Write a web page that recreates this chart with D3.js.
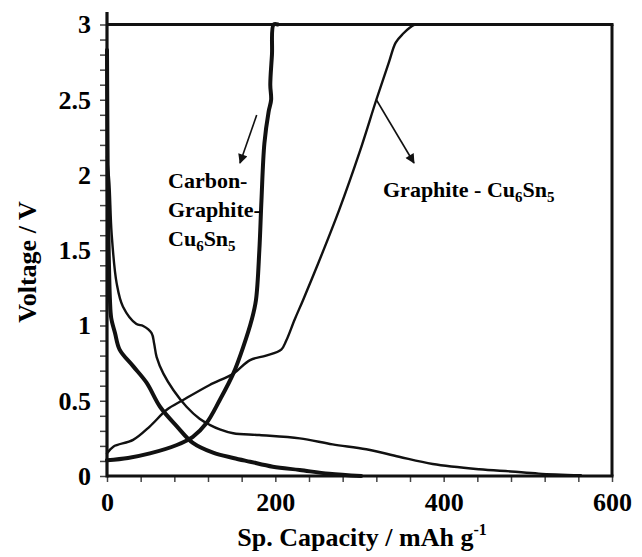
<!DOCTYPE html>
<html>
<head>
<meta charset="utf-8">
<script src="https://cdn.jsdelivr.net/npm/d3@7"></script>
<style>
  body { margin: 0; background: #fff; }
  svg { display: block; }
  text { font-family: "Liberation Serif", "Times New Roman", serif; font-weight: bold; fill: #000; }
</style>
</head>
<body>
<div id="chart"></div>
<script>
// capacity (mAh/g) and voltage (V)
const cgDischargeCap = [0, 0.5, 1, 2, 3.5, 5, 9.5, 15, 31, 47, 63, 83, 102, 126, 150, 170, 197, 229, 264, 302];
const cgDischargeV   = [2.83, 2.3, 1.9, 1.5, 1.17, 1.05, 0.95, 0.84, 0.73, 0.62, 0.46, 0.33, 0.22, 0.155, 0.12, 0.095, 0.062, 0.04, 0.015, 0.0];

const cgChargeCap = [0, 25, 51, 83, 102, 118, 134, 150, 162, 172, 177, 181, 183.5, 187, 192, 195, 194, 196, 198, 203];
const cgChargeV   = [0.105, 0.12, 0.15, 0.206, 0.26, 0.35, 0.505, 0.68, 0.86, 1.04, 1.17, 1.5, 1.83, 2.21, 2.42, 2.5, 2.6, 2.8, 3.0, 3.0];

const gDischargeCap = [0, 2.8, 5.5, 11.5, 19, 35, 43, 53, 56, 59, 67, 79, 94.5, 110, 122, 134, 150, 181, 229, 268, 308, 347, 387, 442, 480, 513, 563];
const gDischargeV   = [2.12, 1.95, 1.61, 1.28, 1.125, 1.01, 0.997, 0.95, 0.88, 0.79, 0.68, 0.57, 0.46, 0.38, 0.34, 0.31, 0.284, 0.272, 0.25, 0.21, 0.178, 0.128, 0.08, 0.045, 0.03, 0.016, 0.005];

const gChargeCap = [0, 7.5, 31, 51, 71, 90.5, 122, 150, 170, 189, 207, 213, 223, 233, 250, 276, 300, 320, 335, 343, 352, 360, 366];
const gChargeV   = [0.15, 0.195, 0.24, 0.33, 0.44, 0.505, 0.605, 0.68, 0.77, 0.8, 0.84, 0.9, 1.04, 1.17, 1.4, 1.77, 2.15, 2.5, 2.75, 2.88, 2.94, 2.98, 3.0];

const xLabels = [0, 200, 400, 600];
const yLabels = [0, 0.5, 1, 1.5, 2, 2.5, 3];

const width = 642;
const height = 557;

const svg = d3.select("#chart").append("svg")
    .attr("width", width)
    .attr("height", height);

const x = d3.scaleLinear().domain([0, 600]).range([107, 612]);
const y = d3.scaleLinear().domain([0, 3]).range([476, 24.5]);

const xMinor = d3.range(0, 601, 40);
const yMinor = d3.range(0, 31).map(i => i / 10);

// y axis
const yAxis = svg.append("g")
    .attr("transform", `translate(${x(0)},0)`)
    .call(d3.axisLeft(y)
        .tickValues(yMinor)
        .tickSize(7)
        .tickPadding(9)
        .tickFormat(d => yLabels.some(v => Math.abs(v - d) < 1e-6) ? String(+d.toFixed(1)) : ""));
yAxis.select(".domain").remove();
yAxis.selectAll(".tick line").attr("stroke", "#444").attr("stroke-width", 1.5);
yAxis.selectAll(".tick text").style("font-size", "26px");

// x axis
const xAxis = svg.append("g")
    .attr("transform", `translate(0,${y(0)})`)
    .call(d3.axisBottom(x)
        .tickValues(xMinor)
        .tickSize(6)
        .tickPadding(11)
        .tickFormat(d => xLabels.includes(d) ? String(d) : ""));
xAxis.select(".domain").remove();
xAxis.selectAll(".tick line").attr("stroke", "#444").attr("stroke-width", 1.5);
xAxis.selectAll(".tick text").style("font-size", "26px");

// frame
svg.append("line")
    .attr("x1", x(0)).attr("x2", x(0))
    .attr("y1", y(3) - 12.5).attr("y2", y(0) + 1.5)
    .attr("stroke", "#111").attr("stroke-width", 3.2);
svg.append("line")
    .attr("x1", x(0)).attr("x2", x(600) + 1.5)
    .attr("y1", y(0)).attr("y2", y(0))
    .attr("stroke", "#111").attr("stroke-width", 3);
svg.append("line")
    .attr("x1", x(0)).attr("x2", x(600) + 1.5)
    .attr("y1", y(3)).attr("y2", y(3))
    .attr("stroke", "#111").attr("stroke-width", 3);
svg.append("line")
    .attr("x1", x(600)).attr("x2", x(600))
    .attr("y1", y(3)).attr("y2", y(0))
    .attr("stroke", "#111").attr("stroke-width", 3);

// curves
const line = d3.line()
    .x(d => x(d[0]))
    .y(d => y(d[1]))
    .curve(d3.curveCatmullRom.alpha(0.5));

const series = [
    { cap: gDischargeCap, v: gDischargeV, w: 2.4 },
    { cap: gChargeCap, v: gChargeV, w: 2.4 },
    { cap: cgDischargeCap, v: cgDischargeV, w: 4 },
    { cap: cgChargeCap, v: cgChargeV, w: 4 }
];

svg.append("g")
    .selectAll("path")
    .data(series)
    .join("path")
    .attr("d", s => line(d3.zip(s.cap, s.v)))
    .attr("fill", "none")
    .attr("stroke", "#111")
    .attr("stroke-width", s => s.w)
    .attr("stroke-linejoin", "round")
    .attr("stroke-linecap", "round");

// arrows
svg.append("defs").append("marker")
    .attr("id", "arrow")
    .attr("viewBox", "0 0 10 10")
    .attr("refX", 9)
    .attr("refY", 5)
    .attr("markerWidth", 7)
    .attr("markerHeight", 6)
    .attr("markerUnits", "strokeWidth")
    .attr("orient", "auto")
    .append("path")
    .attr("d", "M0,0 L10,5 L0,10 Z")
    .attr("fill", "#111");

svg.append("line")
    .attr("x1", 256.7).attr("y1", 115)
    .attr("x2", 240).attr("y2", 163)
    .attr("stroke", "#111").attr("stroke-width", 1.6)
    .attr("marker-end", "url(#arrow)");

svg.append("line")
    .attr("x1", x(320)).attr("y1", y(2.5))
    .attr("x2", 414).attr("y2", 163)
    .attr("stroke", "#111").attr("stroke-width", 1.6)
    .attr("marker-end", "url(#arrow)");

// annotations
function cuSn(t) {
    t.append("tspan").text("Cu");
    t.append("tspan").text("6").style("font-size", "15px").attr("dy", 5);
    t.append("tspan").text("Sn").attr("dy", -5);
    t.append("tspan").text("5").style("font-size", "15px").attr("dy", 5);
}

const ann = svg.append("g").style("font-size", "22px");
ann.append("text").attr("x", 168).attr("y", 188).text("Carbon-");
ann.append("text").attr("x", 168).attr("y", 217).text("Graphite-");
ann.append("text").attr("x", 168).attr("y", 246).call(cuSn);

const ann2 = ann.append("text").attr("x", 383).attr("y", 197);
ann2.append("tspan").text("Graphite - ");
cuSn(ann2);

// axis titles
const xt = svg.append("text")
    .attr("x", 362)
    .attr("y", 546)
    .attr("text-anchor", "middle")
    .style("font-size", "26px");
xt.append("tspan").text("Sp. Capacity / mAh g");
xt.append("tspan").text("-1").style("font-size", "16px").attr("dy", -11);

svg.append("text")
    .attr("transform", "translate(36,262) rotate(-90)")
    .attr("text-anchor", "middle")
    .style("font-size", "26px")
    .text("Voltage / V");
</script>
</body>
</html>
